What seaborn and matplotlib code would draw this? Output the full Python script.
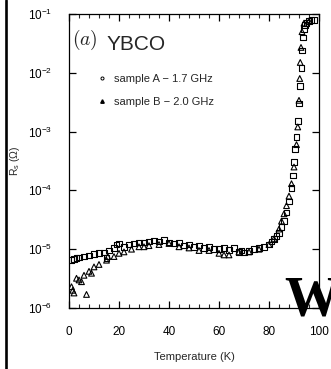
import numpy as np
import pandas as pd
import matplotlib
matplotlib.use("Agg")
import matplotlib.pyplot as plt
import seaborn as sns
from matplotlib.ticker import MultipleLocator, FixedLocator, NullLocator
from matplotlib.lines import Line2D

# ---------------- data ----------------
temp_a = [1, 2, 3, 4, 6, 8, 10, 12, 14, 15, 16, 18, 19, 20, 22, 24, 26, 28, 30, 32,
          34, 36, 38, 40, 42, 44, 46, 48, 50, 52, 54, 56, 58, 60, 62, 64, 66, 68,
          69, 70, 72, 74, 76, 78, 80, 81, 82, 83, 84, 85, 86, 87, 88, 89, 89.5,
          90, 90.5, 91, 91.5, 92, 92.5, 93, 93.3, 93.6, 94, 94.5, 95, 96, 97, 98]
rs_a = [6.6e-6, 6.8e-6, 7.0e-6, 7.2e-6, 7.5e-6, 7.8e-6, 8.2e-6, 8.5e-6, 8.8e-6, 7.0e-6,
        9.5e-6, 1.05e-5, 1.2e-5, 1.25e-5, 1.1e-5, 1.2e-5, 1.25e-5, 1.3e-5, 1.3e-5, 1.35e-5,
        1.4e-5, 1.35e-5, 1.45e-5, 1.3e-5, 1.25e-5, 1.3e-5, 1.15e-5, 1.2e-5, 1.1e-5, 1.15e-5,
        1.05e-5, 1.1e-5, 1.0e-5, 1.0e-5, 1.05e-5, 9.8e-6, 1.05e-5, 9.0e-6,
        9.5e-6, 8.8e-6, 9.2e-6, 1.0e-5, 1.05e-5, 1.1e-5, 1.2e-5, 1.35e-5, 1.5e-5, 1.7e-5,
        1.9e-5, 2.4e-5, 3.0e-5, 4.2e-5, 6.5e-5, 1.1e-4, 1.8e-4,
        3.0e-4, 5.0e-4, 8.0e-4, 1.5e-3, 3.0e-3, 6.0e-3, 1.2e-2, 2.4e-2, 4.0e-2, 5.5e-2,
        6.5e-2, 7.0e-2, 7.5e-2, 7.8e-2, 7.8e-2]

temp_b = [1, 1.5, 2, 3, 4, 5, 6, 7, 8, 9, 10, 12, 15, 15.5, 18, 20, 22, 25, 28, 30,
          32, 36, 40, 44, 48, 52, 56, 60, 62, 64, 68, 72, 76, 80, 82, 84, 85, 86, 87,
          88, 89, 90, 91, 91.5, 92, 92.3, 92.5, 92.8, 93.2, 94, 96]
rs_b = [2.3e-6, 2.0e-6, 1.8e-6, 3.2e-6, 3.0e-6, 2.8e-6, 3.6e-6, 1.7e-6, 4.2e-6, 3.9e-6,
        5.0e-6, 5.5e-6, 6.5e-6, 7.5e-6, 7.5e-6, 8.5e-6, 9.0e-6, 1.0e-5, 1.1e-5, 1.1e-5,
        1.15e-5, 1.2e-5, 1.25e-5, 1.1e-5, 1.05e-5, 9.5e-6, 9.5e-6, 8.5e-6, 8.0e-6, 8.0e-6,
        9.0e-6, 9.0e-6, 1.0e-5, 1.2e-5, 1.5e-5, 2.2e-5, 3.0e-5, 4.0e-5, 5.5e-5,
        8.0e-5, 1.3e-4, 2.5e-4, 6.0e-4, 1.2e-3, 3.4e-3, 8.0e-3, 1.5e-2, 2.7e-2, 5.0e-2,
        7.0e-2, 7.6e-2]

x_ticks = [0, 20, 40, 60, 80, 100]
y_ticks = [1e-6, 1e-5, 1e-4, 1e-3, 1e-2, 1e-1]
y_ticklabels = ["10$^{-6}$", "10$^{-5}$", "10$^{-4}$", "10$^{-3}$", "10$^{-2}$", "10$^{-1}$"]
label_a = "sample A \u2212 1.7 GHz"
label_b = "sample B \u2212 2.0 GHz"

# ---------------- style ----------------
sns.set_style("ticks")
plt.rcParams["font.family"] = ["Liberation Sans", "DejaVu Sans"]
plt.rcParams["mathtext.fontset"] = "custom"
plt.rcParams["mathtext.rm"] = "Liberation Sans"
plt.rcParams["mathtext.it"] = "Liberation Sans:italic"
plt.rcParams["mathtext.default"] = "regular"

W, H = 331, 369
fig = plt.figure(figsize=(W / 100, H / 100), dpi=100)
ax = fig.add_axes([69 / W, 1 - 308 / H, 250 / W, 294 / H])

df_a = pd.DataFrame({"T": temp_a, "Rs": rs_a})
df_b = pd.DataFrame({"T": temp_b, "Rs": rs_b})

sns.scatterplot(data=df_a, x="T", y="Rs", ax=ax, marker="s", s=17,
                facecolor="none", edgecolor="black", linewidth=0.8, legend=False)
sns.scatterplot(data=df_b, x="T", y="Rs", ax=ax, marker="^", s=17,
                facecolor="none", edgecolor="black", linewidth=0.8, legend=False)

ax.set_yscale("log")
ax.set_xlim(0, 100)
ax.set_ylim(1e-6, 1e-1)

for s in ax.spines.values():
    s.set_linewidth(0.9)
    s.set_color("black")
    s.set_visible(True)

ax.xaxis.set_major_locator(FixedLocator(x_ticks))
ax.xaxis.set_minor_locator(MultipleLocator(4))
ax.yaxis.set_major_locator(FixedLocator(y_ticks))
ax.yaxis.set_minor_locator(NullLocator())
ax.set_yticklabels(y_ticklabels)
ax.set_xticklabels([str(v) for v in x_ticks])

ax.tick_params(axis="both", which="major", direction="in", length=5, width=0.9,
               labelsize=8.5, top=True, right=True, colors="black")
ax.tick_params(axis="x", which="major", pad=13)
ax.tick_params(axis="y", which="major", pad=12)
ax.tick_params(axis="x", which="minor", direction="in", length=3, width=0.8,
               top=True, bottom=True)

ax.set_xlabel("Temperature (K)", fontsize=8)
ax.set_ylabel("R$_s$ ($\\Omega$)", fontsize=7.5)
ax.xaxis.set_label_coords(0.5, -(352 - 308) / 294)
ax.yaxis.set_label_coords(-(69 - 22) / 250, 0.5)

ax.text(0.014, 0.912, "$\\mathrm{(}\\mathit{a}\\mathrm{)}$", transform=ax.transAxes,
        fontsize=14, math_fontfamily="cm", ha="left", va="center")
ax.text(0.152, 0.895, "YBCO", transform=ax.transAxes, fontsize=15,
        ha="left", va="center")

handles = [Line2D([], [], linestyle="none", marker="o", markersize=2.2,
                  markerfacecolor="white", markeredgecolor="black", markeredgewidth=0.7),
           Line2D([], [], linestyle="none", marker="^", markersize=2.5,
                  markerfacecolor="black", markeredgecolor="black")]
ax.legend(handles, [label_a, label_b], loc="upper left",
          bbox_to_anchor=(0.09, 0.815), frameon=False, fontsize=8,
          handlelength=0.8, handletextpad=0.7, labelspacing=1.15, borderpad=0)

# left border line of the scan
fig.add_artist(Line2D([5.7 / W, 5.7 / W], [0, 1], transform=fig.transFigure,
                      color="black", linewidth=1.9))
# watermark W
fig.text(284 / W, 1 - 315 / H, "W", fontsize=40, family="Liberation Serif",
         fontweight="bold", color="black", ha="left", va="baseline", zorder=10)

fig.savefig("out.png", dpi=100)
